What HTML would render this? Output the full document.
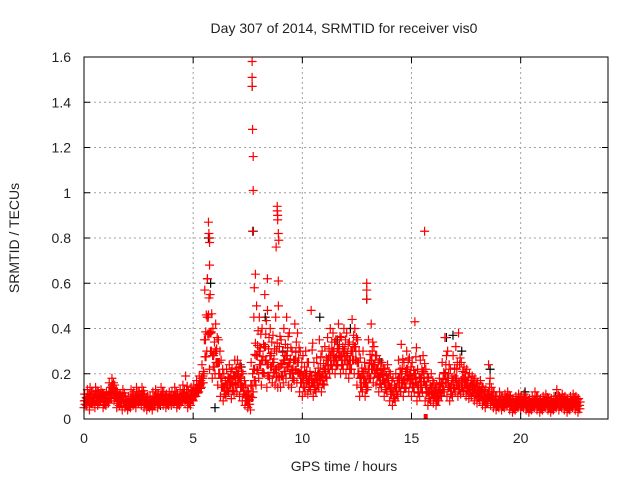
<!DOCTYPE html>
<html><head><meta charset="utf-8"><style>
body{margin:0;background:#fff;font-family:"Liberation Sans",sans-serif}
svg text{font-family:"Liberation Sans",sans-serif;font-size:14px;fill:#222}
</style></head><body>
<svg id="chart" width="640" height="480" viewBox="0 0 640 480" xmlns="http://www.w3.org/2000/svg">
<rect width="640" height="480" fill="#fff"/>
<g id="grid"></g>
<g id="marks"></g>
<rect x="84" y="57" width="524" height="362" fill="none" stroke="#000"/>
<g id="axes"></g>
<text x="344" y="33" text-anchor="middle">Day 307 of 2014, SRMTID for receiver vis0</text>
<text x="344" y="471" text-anchor="middle">GPS time / hours</text>
<text transform="translate(19,238) rotate(-90)" text-anchor="middle">SRMTID / TECUs</text>
</svg>
<script>
const xTicks=[0,5,10,15,20];
const yTicks=[0,0.2,0.4,0.6,0.8,1,1.2,1.4,1.6];
const yTickLabels=["0","0.2","0.4","0.6","0.8","1","1.2","1.4","1.6"];
const stepHours=0.125;
const redLo=[.05,.06,.04,.07,.05,.06,.08,.05, .06,.07,.09,.08,.05,.06,.04,.05, .04,.05,.06,.05,.07,.06,.05,.04, .05,.04,.06,.05,.07,.06,.05,.06, .06,.07,.05,.06,.08,.07,.05,.06, .08,.10,.12,.14,.20,.30,.22,.18, .20,.15,.10,.08,.10,.12,.09,.11, .12,.10,.08,.06,.05,.04,.12,.15, .18,.15,.20,.14,.18,.16,.15,.14, .14,.16,.18,.15,.14,.17,.16,.12, .10,.12,.11,.13,.10,.12,.14,.12, .15,.18,.20,.22,.20,.24,.20,.22, .20,.18,.22,.20,.15,.10,.12,.10, .14,.18,.16,.15,.12,.14,.10,.12, .08,.06,.08,.10,.12,.10,.14,.12, .10,.12,.08,.10,.12,.08,.06,.08, .07,.06,.08,.10,.12,.10,.08,.10, .12,.10,.11,.12,.10,.09,.10,.08, .07,.08,.06,.05,.07,.06,.05,.04, .05,.04,.05,.06,.04,.03,.04,.05, .04,.05,.04,.03,.04,.05,.04,.03, .04,.05,.04,.03,.04,.05,.04,.05, .04,.03,.04,.05,.04,.03];
const redMid=[.08,.09,.10,.08,.11,.09,.10,.08, .09,.12,.14,.11,.09,.08,.10,.07, .07,.09,.08,.10,.09,.11,.08,.07, .07,.08,.09,.08,.10,.09,.08,.09, .09,.10,.08,.09,.11,.10,.09,.11, .12,.13,.15,.18,.35,.45,.38,.28, .30,.25,.18,.14,.15,.18,.16,.19, .20,.18,.14,.10,.08,.15,.22,.28, .30,.26,.32,.24,.28,.25,.22,.23, .24,.26,.28,.25,.22,.26,.25,.20, .18,.20,.17,.19,.16,.18,.20,.19, .22,.26,.28,.30,.27,.31,.28,.30, .28,.26,.30,.32,.25,.18,.20,.16, .22,.26,.24,.22,.19,.20,.16,.18, .14,.12,.14,.18,.20,.17,.22,.19, .18,.20,.15,.18,.21,.15,.12,.14, .12,.10,.13,.16,.20,.18,.14,.17, .18,.16,.17,.18,.15,.14,.15,.13, .12,.12,.10,.09,.12,.10,.08,.07, .08,.07,.08,.09,.07,.06,.07,.08, .07,.08,.06,.06,.07,.08,.07,.06, .07,.08,.06,.06,.07,.08,.07,.08, .07,.06,.07,.08,.07,.06];
const redHi=[.11,.13,.14,.12,.14,.12,.13,.11, .12,.16,.18,.15,.12,.11,.13,.10, .10,.13,.12,.14,.12,.14,.11,.10, .10,.12,.13,.11,.14,.12,.11,.12, .12,.14,.11,.13,.15,.19,.12,.14, .15,.17,.19,.24,.57,.62,.55,.40, .42,.35,.26,.20,.22,.24,.22,.26, .26,.24,.20,.15,.12,.25,.45,.50, .45,.40,.55,.48,.40,.37,.45,.50, .35,.40,.45,.38,.30,.42,.38,.30, .28,.30,.25,.48,.25,.27,.35,.30, .32,.36,.40,.38,.35,.42,.36,.40, .38,.34,.44,.40,.35,.27,.30,.22, .35,.42,.32,.28,.26,.25,.22,.24, .20,.18,.20,.26,.33,.25,.30,.27, .25,.43,.22,.26,.28,.22,.18,.20, .16,.15,.18,.25,.36,.30,.22,.28, .32,.38,.25,.23,.22,.20,.19,.18, .16,.17,.14,.13,.24,.14,.12,.10, .12,.10,.11,.12,.10,.09,.10,.11, .10,.11,.09,.09,.10,.12,.10,.09, .10,.11,.09,.09,.10,.13,.10,.11, .10,.09,.10,.11,.10,.09];
const spikeTimes=[7.7,7.7,7.7,7.72,7.75,7.75,7.72,5.7,5.72,5.75,5.75,5.75,5.65,8.85,8.85,8.87,8.87,8.9,8.92,8.8,15.6,12.95,12.95,12.95,7.85,7.8,8.4,8.9];
const spikeVals=[1.58,1.51,1.47,1.28,1.16,1.01,0.83,0.87,0.82,0.80,0.78,0.68,0.62,0.94,0.92,0.90,0.88,0.82,0.79,0.76,0.83,0.60,0.57,0.53,0.64,0.58,0.62,0.61];
const blackTimes=[0.2,1.3,3.5,5.7,5.8,6.0,7.2,7.7,7.75,8.3,9.1,10.8,11.6,12.2,12.95,13.6,14.5,15.2,16.6,16.9,17.3,18.6,20.2,21.6];
const blackVals=[0.08,0.15,0.06,0.80,0.6,0.05,0.23,1.47,0.83,0.45,0.3,0.45,0.35,0.4,0.53,0.25,0.12,0.18,0.36,0.37,0.3,0.22,0.12,0.1];
const x0=84,x1=608,y0=419,y1=57,xMax=24,yMax=1.6;
const sx=v=>x0+(x1-x0)*v/xMax, sy=v=>y0-(y0-y1)*v/yMax;
const NS="http://www.w3.org/2000/svg";
const grid=document.getElementById('grid'),axes=document.getElementById('axes'),marks=document.getElementById('marks');
function mk(t,a,p){const e=document.createElementNS(NS,t);for(const k in a)e.setAttribute(k,a[k]);p.appendChild(e);return e;}
xTicks.forEach(v=>{const x=sx(v);
 if(v>0){const g=mk('line',{x1:x,x2:x,y1:y0,y2:y1,stroke:'#a0a0a0','stroke-dasharray':'2,3'},grid);
 
 }
 mk('line',{x1:x,x2:x,y1:y0,y2:y0-6,stroke:'#000'},axes);mk('line',{x1:x,x2:x,y1:y1,y2:y1+6,stroke:'#000'},axes);
 const t=mk('text',{x:x,y:y0+24,'text-anchor':'middle'},axes);t.textContent=v;
 
 });
yTicks.forEach((v,i)=>{const y=sy(v);
 if(v>0&&v<yMax){const g=mk('line',{x1:x0,x2:x1,y1:y,y2:y,stroke:'#a0a0a0','stroke-dasharray':'2,3'},grid);
 
 }
 mk('line',{x1:x0,x2:x0+6,y1:y,y2:y,stroke:'#000'},axes);mk('line',{x1:x1,x2:x1-6,y1:y,y2:y,stroke:'#000'},axes);
 const t=mk('text',{x:x0-13,y:y+5,'text-anchor':'end'},axes);t.textContent=yTickLabels[i];
 
 });
function plus(t,v,c){const x=sx(t),y=sy(v);
 const p=mk('path',{d:`M${x-4.5} ${y}h9M${x} ${y-4.5}v9`,stroke:c,'stroke-width':1.2,fill:'none'},marks);
 
 }
blackTimes.forEach((t,i)=>plus(t,blackVals[i],'#000'));
redLo.forEach((v,i)=>plus(i*stepHours,v,'#f00'));
redHi.forEach((v,i)=>plus(i*stepHours+0.03,v,'#f00'));
redMid.forEach((v,i)=>plus(i*stepHours+0.0625,v,'#f00'));
redMid.forEach((v,i)=>plus(i*stepHours+0.09,(v+redLo[i])/2,'#f00'));
redHi.forEach((v,i)=>plus(i*stepHours+0.1,(v+redMid[i])/2,'#f00'));
redLo.forEach((v,i)=>plus(i*stepHours+0.045,(v+redMid[i])/2,'#f00'));
redMid.forEach((v,i)=>plus(i*stepHours+0.015,v,'#f00'));
redHi.forEach((v,i)=>plus(i*stepHours+0.075,(v+redLo[i])/2,'#f00'));
spikeTimes.forEach((t,i)=>plus(t,spikeVals[i],'#f00'));
const sq=mk('rect',{x:sx(15.65)-2,y:y0-5,width:4,height:5,fill:'#f00'},marks);


</script>
</body></html>
